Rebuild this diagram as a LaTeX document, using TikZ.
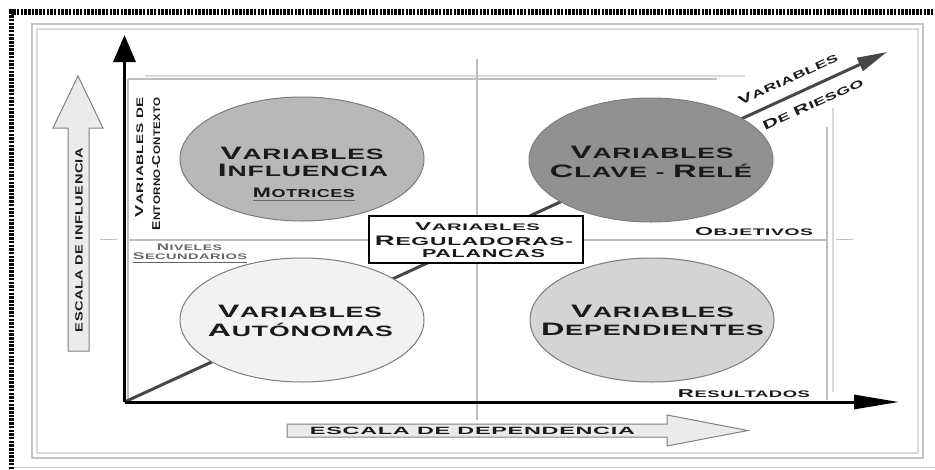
\documentclass[tikz,border=0pt]{standalone}
\usepackage{fontspec}
\usepackage{graphicx}
\usetikzlibrary{arrows.meta,shapes.geometric}
\newfontfamily\cpf[LetterSpace=4,FakeStretch=1.3]{Liberation Sans}
\newcommand\fit[2]{\resizebox{#1pt}{\height}{#2}}
\newcommand\K[1]{\scalebox{1.2}{#1}\kern0.04em}
\definecolor{txtcol}{HTML}{1A1A1A}
\definecolor{framecol}{HTML}{C4C4C4}
\definecolor{gridcol}{HTML}{BEBEBE}
\definecolor{ellline}{HTML}{7C7C7C}
\tikzset{
  lbl/.style={inner sep=0pt, text=txtcol, anchor=base},
  fbig/.style={lbl, font=\fontsize{15}{15}\selectfont\cpf\bfseries},
  fmid/.style={lbl, font=\fontsize{11.5}{11.5}\selectfont\cpf\bfseries},
  fsmall/.style={lbl, font=\fontsize{9.5}{9.5}\selectfont\cpf\bfseries},
  fscale/.style={lbl, font=\fontsize{10.5}{10.5}\selectfont\cpf\bfseries},
  ftiny/.style={lbl, font=\fontsize{8}{8}\selectfont\cpf\bfseries, text=black!60},
  ell/.style={ellipse, draw=ellline, line width=1pt, minimum width=244pt, minimum height=124pt, inner sep=0pt},
  gridline/.style={draw=gridcol, line width=1.6pt},
  gridlight/.style={draw=black!15, line width=1.4pt},
  hollow/.style={draw=black!50, line width=1pt, fill=black!8},
  uline/.style={draw=black!60, line width=1.2pt},
}
\begin{document}
\begin{tikzpicture}[x=1pt,y=-1pt]
\useasboundingbox[fill=white] (0,0) rectangle (935,469);
% outer hatched border
\draw[line width=5.5pt, dash pattern=on 2.5pt off 1.2pt, black] (11.5,469) -- (11.5,12) -- (935,12);
\draw[black!20, line width=1pt] (14,467.5) -- (935,467.5);
% inner double frame
\draw[framecol, line width=1.8pt] (32,24) rectangle (923,458);
\draw[black!15, line width=1.4pt] (37,29) rectangle (918,453);
% quadrant grid lines
\draw[gridlight] (145,76) -- (745,76);
\draw[gridline] (128,79) -- (717,79);
\draw[gridline] (128,79) -- (128,402);
\draw[gridline] (477,59) -- (477,420);
\draw[gridline] (100,239.5) -- (117,239.5);
\draw[gridline] (128,240) -- (827,240);
\draw[gridline] (836,239.5) -- (853,239.5);
\draw[gridline] (827,127) -- (827,400);
\draw[gridlight] (833,108) -- (833,392);
% hollow scale arrows
\draw[hollow] (68,351) -- (68,128) -- (53,128) -- (78,76) -- (103,128) -- (89,128) -- (89,351) -- cycle;
\draw[hollow] (287,424) -- (667,424) -- (667,415) -- (748,430.5) -- (667,446) -- (667,437) -- (287,437) -- cycle;
\node[fscale, anchor=center, rotate=90] (escI) at (79,240) {\fit{184}{ESCALA DE INFLUENCIA}};
\node[fscale, anchor=center] (escD) at (472.5,431) {\fit{325}{ESCALA DE DEPENDENCIA}};
% coordinates of the axes
\coordinate (O) at (124.5,402);
\coordinate (ytip) at (124.5,35);
\coordinate (xtip) at (899,402);
\coordinate (risk) at (887,52);
% diagonal risk arrow
\draw[black!72, line width=3pt, -{Triangle[width=14pt,length=30pt]}] (O) -- (risk);
% ellipses
\node[ell, fill=black!28] (infl) at (302,159) {};
\node[ell, fill=black!43] (clave) at (651,160) {};
\node[ell, fill=black!5] (auto) at (302,320) {};
\node[ell, fill=black!17] (dep) at (652,320) {};
% axes
\draw[black, line width=3.5pt, -{Triangle[width=22pt,length=27pt]}] (O) -- (ytip);
\draw[black, line width=3pt, -{Triangle[width=14pt,length=45pt]}] (O) -- (xtip);
% central box
\node[draw=black, line width=2pt, fill=white, minimum width=214pt, minimum height=47pt, inner sep=0pt] (reg) at (475.5,239) {};
\node[fsmall] (reg1) at (477.5,230) {\fit{125}{\K{V}ARIABLES}};
\node[fmid] (reg2) at (474,245) {\fit{198}{\K{R}EGULADORAS-}};
\node[fmid] (reg3) at (483.5,257) {\fit{123}{PALANCAS}};
% ellipse texts
\node[fbig] (i1) at (302,159) {\fit{163}{\K{V}ARIABLES}};
\node[fbig] (i2) at (303,176) {\fit{170}{\K{I}NFLUENCIA}};
\node[fmid] (i3) at (304,197) {\fit{102}{\K{M}OTRICES}};
\draw[uline] ([yshift=-3.5pt]i3.base west) -- ([yshift=-3.5pt]i3.base east);
\node[fbig] (c1) at (652,158) {\fit{163}{\K{V}ARIABLES}};
\node[fbig] (c2) at (651,177) {\fit{202}{\K{C}LAVE - \K{R}ELÉ}};
\node[fbig] (a1) at (300,317) {\fit{164}{\K{V}ARIABLES}};
\node[fbig] (a2) at (300.5,336) {\fit{185}{\K{A}UTÓNOMAS}};
\node[fbig] (d1) at (652.5,317) {\fit{163}{\K{V}ARIABLES}};
\node[fbig] (d2) at (652.5,335) {\fit{223}{\K{D}EPENDIENTES}};
% side labels
\node[fsmall, rotate=90, anchor=base east] (ent1) at (143,97) {\fit{120}{\K{V}ARIABLES DE}};
\node[fsmall, rotate=90, anchor=base east] (ent2) at (160,97) {\fit{133}{\K{E}NTORNO-\K{C}ONTEXTO}};
\node[ftiny] (niv1) at (189.5,250) {\fit{65}{\K{N}IVELES}};
\node[ftiny] (niv2) at (190,259) {\fit{114}{\K{S}ECUNDARIOS}};
\draw[uline, line width=1pt] ([yshift=-3pt]niv2.base west) -- ([yshift=-3pt]niv2.base east);
\node[fsmall] (obj) at (754,235) {\fit{118}{\K{O}BJETIVOS}};
\node[fsmall] (res) at (744,397) {\fit{132}{\K{R}ESULTADOS}};
\node[fscale, anchor=center, rotate=24.6] (rv) at (788,79) {\fit{108}{\K{V}ARIABLES}};
\node[fscale, anchor=center, rotate=24.6] (rr) at (813,104) {\fit{109}{\K{D}E \K{R}IESGO}};
\end{tikzpicture}
\end{document}
